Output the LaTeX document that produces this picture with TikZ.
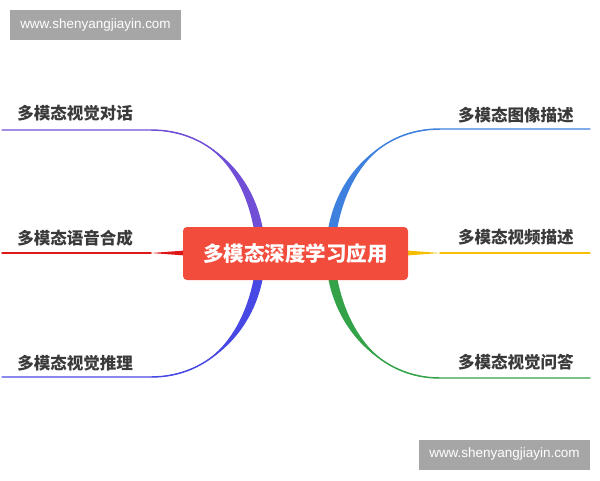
\documentclass[tikz,border=0pt]{standalone}
\usepackage{fontspec}
\setmainfont{Liberation Sans}
\newfontfamily\cjk{Noto Sans CJK SC}
\usetikzlibrary{positioning}
\definecolor{cpurple}{RGB}{112,78,214}
\definecolor{cred}{RGB}{222,24,24}
\definecolor{cindigo}{RGB}{72,72,228}
\definecolor{cblue}{RGB}{62,128,222}
\definecolor{cyellow}{RGB}{246,190,0}
\definecolor{cgreen}{RGB}{52,162,72}
\definecolor{croot}{RGB}{242,76,60}
\definecolor{ctext}{RGB}{58,58,58}
\tikzset{
  leaf/.style={inner sep=0, text=ctext, font=\cjk\bfseries\fontsize{12.4}{14}\selectfont},
  root/.style={fill=croot, rounded corners=3pt, minimum width=168.75pt, minimum height=39.75pt,
    text=white, font=\cjk\bfseries\fontsize{15.4}{18}\selectfont},
  wmark/.style={fill=black!35, minimum width=128.25pt, minimum height=22.5pt, inner sep=0,
    text=white, font=\fontsize{10.1}{12}\selectfont},
  twig/.style={line width=1.1pt, line cap=round}
}

\begin{document}
\begin{tikzpicture}[x=0.75pt,y=-0.75pt]
    \useasboundingbox (0,0) rectangle (600,480);

    \node[wmark] (W1) at (95.5,25) {www.shenyangjiayin.com};
    \node[wmark] (W2) at (504.5,454.5) {www.shenyangjiayin.com};

    \foreach \t/\y [count=\i] in {多模态视觉对话/113,多模态语音合成/238,多模态视觉推理/363}
    {
      \node[leaf,anchor=west](L\i) at (17,\y) {\t};
    }
    \foreach \t/\y [count=\i] in {多模态图像描述/115,多模态视频描述/237,多模态视觉问答/362}
    {
      \node[leaf,anchor=east](R\i) at (574,\y) {\t};
    }

    % left side
    \coordinate (a1) at (2,130);   \coordinate (b1) at (151,130);
    \coordinate (a2) at (2,253);   \coordinate (b2) at (151,253);
    \coordinate (a3) at (2,377);   \coordinate (b3) at (151,377);
    \draw[twig,cpurple] (a1) -- (b1) .. controls (211,130) and (251,175) .. (259.5,236);
    \fill[cpurple] (b1) .. controls (211,128.5) and (246,175) .. (255,236) -- (264,236)
      .. controls (256,175) and (211,131.5) .. (b1) -- cycle;
    \draw[twig,cred] (a2) -- (b2);
    \fill[cred] (b2) -- (192,250) -- (192,256) -- cycle;
    \draw[twig,cindigo] (a3) -- (b3) .. controls (211,377) and (251,330) .. (259.5,271);
    \fill[cindigo] (b3) .. controls (211,378.5) and (246,330) .. (255,271) -- (264,271)
      .. controls (256,330) and (211,375.5) .. (b3) -- cycle;

    % right side
    \coordinate (c1) at (590,129); \coordinate (d1) at (440,129);
    \coordinate (c2) at (590,253); \coordinate (d2) at (440,253);
    \coordinate (c3) at (590,378); \coordinate (d3) at (440,378);
    \draw[twig,cblue] (c1) -- (d1) .. controls (380,129) and (340,175) .. (331.5,236);
    \fill[cblue] (d1) .. controls (380,127.5) and (345,175) .. (336,236) -- (327,236)
      .. controls (335,175) and (380,130.5) .. (d1) -- cycle;
    \draw[twig,cyellow] (c2) -- (d2);
    \fill[cyellow] (d2) -- (400,250) -- (400,256) -- cycle;
    \draw[twig,cgreen] (c3) -- (d3) .. controls (380,378) and (340,330) .. (331.5,271);
    \fill[cgreen] (d3) .. controls (380,379.5) and (345,330) .. (336,271) -- (327,271)
      .. controls (335,330) and (380,376.5) .. (d3) -- cycle;

    \node[root](root) at (295.5,253.5) {多模态深度学习应用};
  \end{tikzpicture}
\end{document}
